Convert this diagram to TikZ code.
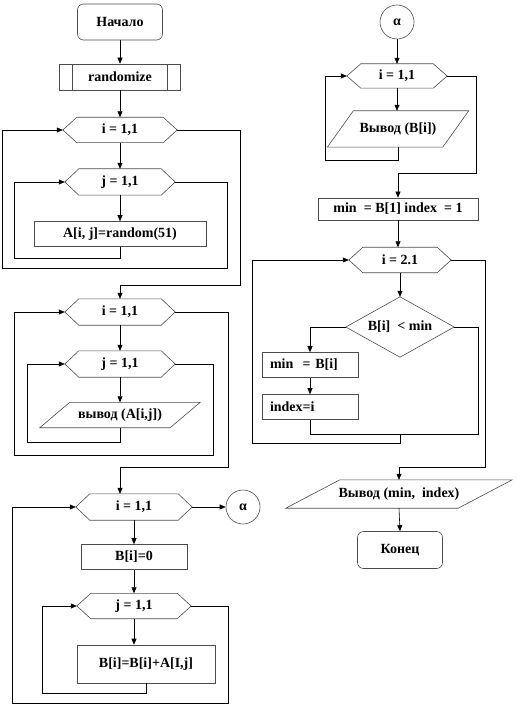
\documentclass[tikz,border=0pt]{standalone}
\usepackage{fontspec}
\setmainfont{Liberation Serif}
\usetikzlibrary{arrows.meta}
\tikzset{
  every node/.style={font=\fontsize{14}{16}\selectfont\bfseries, inner sep=0pt},
  shapeline/.style={draw=black!70, line width=0.6pt},
  box/.style={shapeline, rectangle},
  rbox/.style={shapeline, rectangle, rounded corners=6pt},
  plain/.style={rectangle},
  conn/.style={line width=0.6pt, black},
  arr/.style={conn, -{Triangle[length=6pt,width=5pt]}},
  circ/.style={shapeline, circle, minimum size=34pt},
  lefttext/.style={align=left, inner xsep=8pt, text width=80pt}
}
\newcommand\hexdraw[1]{\draw[shapeline] (#1.west) -- ([xshift=14pt]#1.north west) -- ([xshift=-14pt]#1.north east) -- (#1.east) -- ([xshift=-14pt]#1.south east) -- ([xshift=14pt]#1.south west) -- cycle;}
\newcommand\paradraw[2]{\draw[shapeline] ([xshift=-#2pt]#1.south west) -- ([xshift=#2pt]#1.north west) -- ([xshift=#2pt]#1.north east) -- ([xshift=-#2pt]#1.south east) -- cycle;}
\newcommand\diamdraw[1]{\draw[shapeline] (#1.west) -- (#1.north) -- (#1.east) -- (#1.south) -- cycle;}
\begin{document}
\begin{tikzpicture}[x=1pt,y=-1pt]
\fill[white] (0,0) rectangle (516,708);
\useasboundingbox (0,0) rectangle (516,708);

% ---------- left column ----------
\node[rbox, minimum width=85pt, minimum height=36pt] (start) at (120,22) {Начало};
\node[box, minimum width=121pt, minimum height=26pt] (rnd) at (120,77) {randomize};
\draw[shapeline] ([xshift=13pt]rnd.north west) -- ([xshift=13pt]rnd.south west);
\draw[shapeline] ([xshift=-14pt]rnd.north east) -- ([xshift=-14pt]rnd.south east);

\node[plain, minimum width=114pt, minimum height=25pt] (h1) at (120,130) {i = 1,1};
\hexdraw{h1}
\node[plain, minimum width=110pt, minimum height=26pt] (h2) at (120,182) {j = 1,1};
\hexdraw{h2}
\node[box, minimum width=172pt, minimum height=25pt] (A) at (120,234) {A[i, j]=random(51)};

\draw[arr] (start.south) -- (rnd.north);
\draw[arr] (rnd.south) -- (h1.north);
\draw[arr] (h1.south) -- (h2.north);
\draw[arr] (h2.south) -- (A.north);
\draw[arr] (A.south) -- (120,258) -- (14,258) |- (h2.west);
\draw[arr] (h2.east) -- (227,182) -- (227,268) -- (2,268) |- (h1.west);

\node[plain, minimum width=110pt, minimum height=26pt] (h3) at (120,312) {i = 1,1};
\hexdraw{h3}
\node[plain, minimum width=110pt, minimum height=26pt] (h4) at (120,364) {j = 1,1};
\hexdraw{h4}
\node[plain, minimum width=130pt, minimum height=25pt] (p1) at (120,415) {вывод (A[i,j])};
\paradraw{p1}{15}

\draw[arr] (h1.east) -- (240,130) -- (240,285) -| (h3.north);
\draw[arr] (h3.south) -- (h4.north);
\draw[arr] (h4.south) -- (p1.north);
\draw[arr] (p1.south) -- (120,442) -- (27,442) |- (h4.west);
\draw[arr] (h4.east) -- (213,364) -- (213,455) -- (14,455) |- (h3.west);

\node[plain, minimum width=116pt, minimum height=26pt] (h5) at (134,507) {i = 1,1};
\hexdraw{h5}
\node[circ] (al1) at (243,507) {α};
\node[box, minimum width=106pt, minimum height=25pt] (b0) at (134,557) {B[i]=0};
\node[plain, minimum width=114pt, minimum height=25pt] (h6) at (134,606) {j = 1,1};
\hexdraw{h6}
\node[box, minimum width=138pt, minimum height=38pt] (bs) at (146,664) {B[i]=B[i]+A[I,j]};

\draw[arr] (h3.east) -- (228,312) -- (228,467) -- (120,467) -- (120,467 |- h5.north);
\draw[arr] (h5.east) -- (al1.west);
\draw[arr] (h5.south) -- (b0.north);
\draw[arr] (b0.south) -- (h6.north);
\draw[arr] (h6.south) -- (h6.south |- bs.north);
\draw[arr] (bs.south) -- (146,693) -- (42,693) |- (h6.west);
\draw[arr] (h6.east) -- (228,606) -- (228,703) -- (12,703) |- (h5.west);

% ---------- right column ----------
\node[circ] (al2) at (397,22) {α};
\node[plain, minimum width=100pt, minimum height=24pt] (h7) at (397,76) {i = 1,1};
\hexdraw{h7}
\node[plain, minimum width=115pt, minimum height=36pt] (p2) at (398,129) {Вывод (B[i])};
\paradraw{p2}{13}
\node[box, minimum width=160pt, minimum height=22pt] (mb) at (398,209) {min~ = B[1] index~ = 1};

\draw[arr] (al2.south) -- (h7.north);
\draw[arr] (h7.south) -- (h7.south |- p2.north);
\draw[arr] (p2.south) -- (398,160) -- (325,160) |- (h7.west);
\draw[arr] (h7.east) -- (476,76) -- (476,173) -| (mb.north);

\node[plain, minimum width=102pt, minimum height=25pt] (h8) at (400,260) {i = 2.1};
\hexdraw{h8}
\node[plain, minimum width=108pt, minimum height=60pt] (d1) at (400,327) {B[i]~ < min};
\diamdraw{d1}
\node[box, lefttext, minimum height=25pt] (mn) at (310,365) {min~ = B[i]};
\node[box, lefttext, minimum height=25pt] (ix) at (310,407) {index=i};

\draw[arr] (mb.south) -- (mb.south |- h8.north);
\draw[arr] (h8.south) -- (d1.north);
\draw[arr] (d1.west) -| (mn.north);
\draw[arr] (mn.south) -- (ix.north);
\draw[conn] (d1.east) -| (478,434) -| (ix.south);
\draw[arr] (400,434) -- (400,443) -- (252,443) |- (h8.west);

\node[plain, minimum width=172pt, minimum height=28pt] (p3) at (399,494) {Вывод (min,~ index)};
\paradraw{p3}{27}
\node[rbox, minimum width=85pt, minimum height=37pt] (fin) at (400,550) {Конец};

\draw[arr] (h8.east) -- (485,260) -- (485,467) -| (p3.north);
\draw[arr] (p3.south) -- (fin.north);
\end{tikzpicture}
\end{document}
